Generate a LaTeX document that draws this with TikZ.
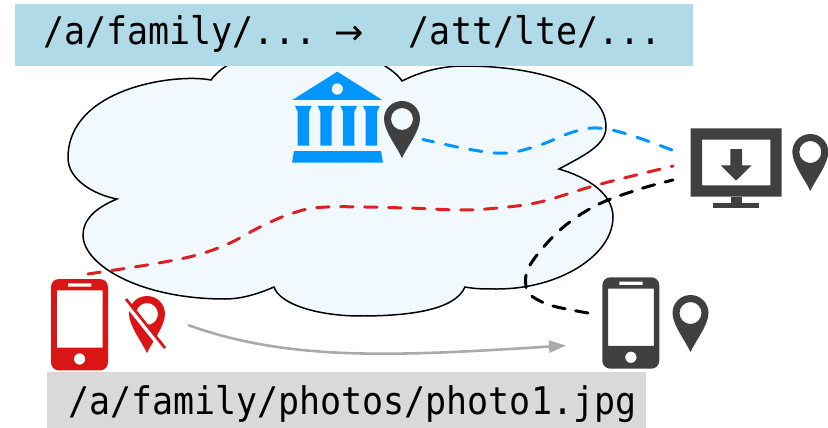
\documentclass[tikz,border=0pt]{standalone}
\usepackage{fontspec}
\setmonofont[FakeStretch=0.92]{DejaVu Sans Mono}
\newfontfamily\arrowfont{DejaVu Sans}
\usetikzlibrary{arrows.meta}
\definecolor{cloudfill}{HTML}{F1F9FF}
\definecolor{topbar}{HTML}{B0DAE8}
\definecolor{lowbar}{HTML}{D9D9D9}
\definecolor{iconblue}{HTML}{0096FF}
\definecolor{icondark}{HTML}{404040}
\definecolor{iconred}{HTML}{DA1515}
\definecolor{linered}{HTML}{E02020}
\definecolor{linegray}{HTML}{AAAAAA}
\tikzset{
  barnode/.style={inner sep=0pt,outer sep=0pt,font=\ttfamily\fontsize{38}{38}\selectfont,text=black},
  dashline/.style={line width=3pt,line cap=round,dash pattern=on 12.5pt off #1},
  dashline/.default=11.5pt,
  pinmark/.pic={\fill[even odd rule,#1] (0,39) .. controls (-5,28) and (-18,12) .. (-18,0)
     .. controls (-18,-10) and (-10,-18) .. (0,-18)
     .. controls (10,-18) and (18,-10) .. (18,0)
     .. controls (18,12) and (5,28) .. (0,39) -- cycle (0,0) circle[radius=11];},
  phonemark/.pic={\fill[even odd rule,#1,rounded corners=8pt] (0,0) rectangle (57,91.4)
     [sharp corners] (5.8,11.4) rectangle (51.6,68.6) (17,4.4) rectangle (40.3,7.7) (28.6,80) circle[radius=5.7];},
}
\begin{document}
\begin{tikzpicture}[x=1pt,y=-1pt]
\useasboundingbox (0,0) rectangle (828,428);
% cloud
\path[draw=black,line width=1.5pt,fill=cloudfill,line join=miter]
  (211,80) .. controls (175,73) and (68,88) .. (68,158)
  .. controls (68,180) and (95,195) .. (117,199)
  .. controls (95,208) and (83,220) .. (83,235)
  .. controls (83,265) and (140,299) .. (225,299)
  .. controls (243,299) and (260,293) .. (274,287)
  .. controls (280,305) and (320,316) .. (360,316)
  .. controls (410,316) and (455,310) .. (465,287)
  .. controls (475,289) and (485,289) .. (497,289)
  .. controls (560,289) and (613,255) .. (613,217)
  .. controls (613,195) and (590,178) .. (559,169)
  .. controls (585,155) and (606,145) .. (606,127)
  .. controls (606,85) and (535,66) .. (465,66)
  .. controls (440,66) and (420,72) .. (402,81)
  .. controls (392,65) and (350,45) .. (310,45)
  .. controls (265,45) and (225,60) .. (211,80) -- cycle;
% banners
\node[barnode,fill=topbar,minimum width=678pt,minimum height=62pt,anchor=north west] (topbanner) at (15,4) {};
\node[barnode,fill=lowbar,minimum width=599pt,minimum height=56pt,anchor=north west] (lowbanner) at (47,372) {};
\node[barnode,anchor=base west] (toplabel) at (43,45) {/a/family/...\hspace{18pt}{\arrowfont\fontsize{35}{35}\selectfont →}\hspace{45pt}/att/lte/...};
\node[barnode,anchor=base west] (lowlabel) at (68,414) {/a/family/photos/photo1.jpg};
% museum
\fill[iconblue,even odd rule] (337.3,71.7) -- (382.3,100) -- (292.3,100) -- cycle (337.3,89) circle[radius=5.7];
\foreach \cx in {303.4,326,348.7,371.4}{
  \fill[iconblue] (\cx-8.3,106) -- (\cx+8.3,106) -- (\cx+5.7,111.7) -- (\cx+5.7,145.7) -- (\cx-5.7,145.7) -- (\cx-5.7,111.7) -- cycle;
}
\fill[iconblue] (294,151) -- (381,151) -- (383,162.7) -- (292,162.7) -- cycle;
\pic at (402,119) {pinmark=icondark};
% monitor
\fill[icondark,even odd rule] (690.7,128.3) rectangle (781.7,196.7) (702,139.7) rectangle (770.3,185.3);
\fill[icondark] (730.7,196.7) rectangle (742,202.7);
\fill[icondark] (713.3,202.7) rectangle (759,208.3);
\fill[icondark] (730.3,149) -- (742,149) -- (742,165.3) -- (751.7,165.3) -- (736,180.7) -- (720.7,165.3) -- (730.3,165.3) -- cycle;
\pic at (810.3,152) {pinmark=icondark};
% phones
\pic at (602.3,277.3) {phonemark=icondark};
\pic at (690.5,313) {pinmark=icondark};
\pic at (51,279) {phonemark=iconred};
% slashed pin
\pic at (147,314) {pinmark=iconred};
\draw[white,line width=3.6pt] (126,304) -- (165,353);
\draw[iconred,line width=2.7pt] (126,299) -- (165,348);
% anchors for the connectors
\coordinate (museumpin) at (423,139.5);
\coordinate (monitorblue) at (672,150);
\coordinate (monitorred) at (673,166);
\coordinate (monitorblack) at (673,180);
\coordinate (redphone) at (88,274);
\coordinate (darkphone) at (588,313);
\coordinate (pinred) at (188,325);
\coordinate (phonegap) at (566,345.5);
% connectors
\draw[iconblue,dashline=12.2pt] plot[smooth,tension=0.6] coordinates {(monitorblue) (627,134) (597,128) (573,132) (540,145) (507,153) (473,150) (museumpin)};
\draw[black,dashline=10.8pt] plot[smooth,tension=0.6] coordinates {(darkphone) (553,306) (533,297) (526,287) (530,265) (560,230) (597,205) (640,189) (monitorblack)};
\draw[linered,dashline] plot[smooth,tension=0.6] coordinates {(redphone) (153,264) (197,255) (230,243) (260,227) (293,213) (327,207) (407,208) (460,210) (497,208) (540,202) (597,185) (monitorred)};
\draw[linegray,line width=2.6pt,-{Triangle[length=17pt,width=12pt]}] (pinred) .. controls (290,362) and (400,356) .. (phonegap);
\end{tikzpicture}
\end{document}
